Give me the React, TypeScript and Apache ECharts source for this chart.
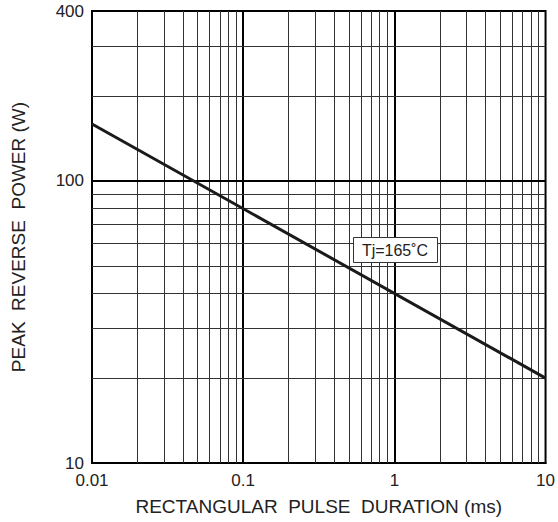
import React, { useEffect, useRef } from "react";
import * as echarts from "echarts";

const pulseDuration = [0.01, 10];
const peakPower = [159, 20];
const xTicks = [0.01, 0.1, 1, 10];
const yTicks = [10, 100, 400];
const xMinorGrid = [0.02, 0.03, 0.04, 0.05, 0.06, 0.07, 0.08, 0.09, 0.2, 0.3, 0.4, 0.5, 0.6, 0.7, 0.8, 0.9, 2, 3, 4, 5, 6, 7, 8, 9];
const xMajorGrid = [0.1, 1];
const yMinorGrid = [20, 30, 40, 50, 60, 70, 80, 90, 200, 300];
const yMajorGrid = [100];
const curveLabel = "Tj=165˚C";

export default function App() {
  const ref = useRef<HTMLDivElement>(null);
  useEffect(() => {
    if (!ref.current) return;
    const chart = echarts.init(ref.current, null, { renderer: "svg" });
    const font = "Liberation Sans, Arial, sans-serif";
    const gridLines = [
      ...xMinorGrid.map((v) => ({ xAxis: v, lineStyle: { color: "#333", width: 1, type: "solid" } })),
      ...xMajorGrid.map((v) => ({ xAxis: v, lineStyle: { color: "#000", width: 2, type: "solid" } })),
      ...yMinorGrid.map((v) => ({ yAxis: v, lineStyle: { color: "#333", width: 1, type: "solid" } })),
      ...yMajorGrid.map((v) => ({ yAxis: v, lineStyle: { color: "#000", width: 2, type: "solid" } })),
    ];
    chart.setOption({
      animation: false,
      backgroundColor: "#fff",
      grid: { left: 92, right: 12, top: 11, bottom: 59, show: true, borderColor: "#000", borderWidth: 2, backgroundColor: "transparent" },
      xAxis: {
        type: "log",
        logBase: 10,
        min: 0.01,
        max: 10,
        name: "RECTANGULAR  PULSE  DURATION (ms)",
        nameLocation: "middle",
        nameGap: 34,
        nameTextStyle: { fontFamily: font, fontSize: 19, color: "#222" },
        axisLine: { show: true, lineStyle: { color: "#000", width: 2 } },
        axisTick: { show: false },
        splitLine: { show: false },
        axisLabel: {
          fontFamily: font, fontSize: 17, color: "#222", margin: 9,
          customValues: xTicks,
          formatter: (v: number) => String(+v.toPrecision(3)),
        },
      },
      yAxis: {
        type: "log",
        logBase: 10,
        min: 10,
        max: 400,
        name: "PEAK  REVERSE  POWER (W)",
        nameLocation: "middle",
        nameGap: 64,
        nameRotate: 90,
        nameTextStyle: { fontFamily: font, fontSize: 19, color: "#222" },
        axisLine: { show: true, lineStyle: { color: "#000", width: 2 } },
        axisTick: { show: false },
        splitLine: { show: false },
        axisLabel: {
          fontFamily: font, fontSize: 17, color: "#222", margin: 8,
          customValues: yTicks,
          formatter: (v: number) => String(Math.round(v)),
        },
      },
      series: [
        {
          type: "line",
          data: pulseDuration.map((x, i) => [x, peakPower[i]]),
          showSymbol: false,
          lineStyle: { color: "#1a1a1a", width: 3 },
          z: 5,
          markLine: {
            silent: true,
            symbol: "none",
            label: { show: false },
            data: gridLines,
            z: 1,
          },
        },
      ],
      graphic: [
        {
          type: "rect",
          left: 353,
          top: 237,
          z: 100,
          shape: { x: 0, y: 0, width: 84, height: 25 },
          style: { fill: "#fff", stroke: "#333", lineWidth: 1 },
        },
        {
          type: "text",
          x: 395,
          y: 250,
          z: 101,
          style: { text: curveLabel, fontFamily: font, fontSize: 16, fill: "#222", align: "center", verticalAlign: "middle" },
        },
      ],
    });
    return () => chart.dispose();
  }, []);
  return <div ref={ref} style={{ position: "fixed", left: 0, top: 0, width: 558, height: 522 }} />;
}
